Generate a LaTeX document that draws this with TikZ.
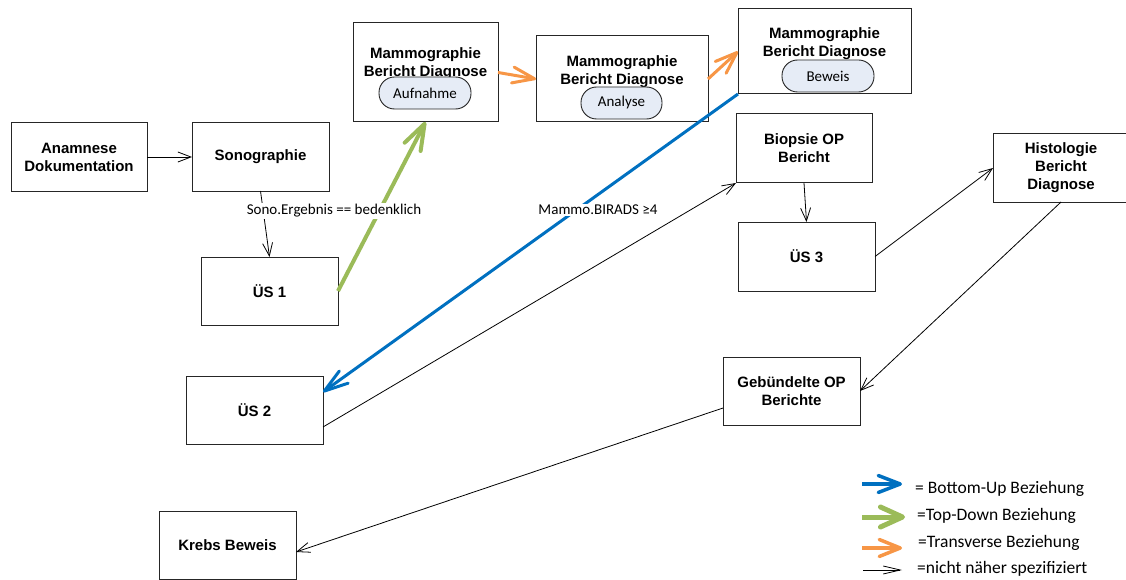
\documentclass[tikz,border=0pt]{standalone}
\usepackage{fontspec}
\setmainfont{Carlito}
\newfontfamily\arialsans{Liberation Sans}
\usetikzlibrary{arrows.meta}

\definecolor{buBlue}{HTML}{0070C0}
\definecolor{tdGreen}{HTML}{9BBB59}
\definecolor{trOrange}{HTML}{F79646}
\definecolor{pillFill}{HTML}{E6ECF6}
\definecolor{boxLine}{HTML}{262626}

\newcommand\boxlbl{\arialsans\bfseries\fontsize{15}{18}\selectfont}
\newcommand\pilltxt{\fontsize{15}{18}\selectfont}
\newcommand\legendtxt{\fontsize{17.5}{21}\selectfont}

\tikzset{
  box/.style={draw=boxLine, line width=1pt, fill=white, inner sep=0pt, outer sep=0pt,
              align=center, font=\boxlbl},
  boxtext/.style={inner sep=0pt, align=center, font=\boxlbl},
  pill/.style={draw=boxLine, line width=0.9pt, fill=pillFill, rounded corners=15.5pt,
               minimum height=32pt, inner sep=0pt, font=\pilltxt},
  plain/.style={draw=black, line width=0.8pt, -{Straight Barb[length=13pt,width=10pt]}},
  bottomup/.style={draw=buBlue, line width=3pt, -{Straight Barb[length=24pt,width=15pt,round]}},
  topdown/.style={draw=tdGreen, line width=4pt, -{Straight Barb[length=26pt,width=18pt,round]}},
  transverse/.style={draw=trOrange, line width=3pt, -{Straight Barb[length=22pt,width=16pt,round]}},
  cond/.style={fill=white, inner sep=1.5pt, font=\pilltxt},
  legendlbl/.style={anchor=base west, inner sep=0pt, font=\legendtxt},
}

\begin{document}
\begin{tikzpicture}[x=1pt, y=-1pt]
\useasboundingbox (0,0) rectangle (1126,580);

% process boxes
\node[box, minimum width=136pt, minimum height=68pt] (anam) at (79,157) {Anamnese\\Dokumentation};
\node[box, minimum width=137pt, minimum height=68pt] (sono) at (260.5,157) {Sonographie};
\node[box, minimum width=137pt, minimum height=68pt] (us1) at (269.5,291) {ÜS 1};
\node[box, minimum width=137pt, minimum height=68pt] (us2) at (254.5,410) {ÜS 2};
\node[box, minimum width=137pt, minimum height=68pt] (krebs) at (227.5,545) {Krebs Beweis};
\node[box, minimum width=136pt, minimum height=69pt] (biop) at (804,148.5) {Biopsie OP\\Bericht};
\node[box, minimum width=137pt, minimum height=69pt] (us3) at (806.5,256.5) {ÜS 3};
\node[box, minimum width=136pt, minimum height=68pt] (histo) at (1061,168) {Histologie\\Bericht\\Diagnose};
\node[box, minimum width=137pt, minimum height=68pt] (geb) at (791.5,391) {Gebündelte OP\\Berichte};

% mammography boxes with their stage pills
\node[box, minimum width=145pt, minimum height=99pt] (m1) at (425.5,72.5) {};
\node[boxtext] (m1t) at (425.5,64) {Mammographie\\Bericht Diagnose};
\node[pill, minimum width=92pt] (p1) at (425,93) {Aufnahme};

\node[box, minimum width=172pt, minimum height=86pt] (m2) at (622,79) {};
\node[boxtext] (m2t) at (622,71.6) {Mammographie\\Bericht Diagnose};
\node[pill, minimum width=81pt] (p2) at (621.5,103) {Analyse};

\node[box, minimum width=173pt, minimum height=85pt] (m3) at (824.5,51.5) {};
\node[boxtext] (m3t) at (824.5,44) {Mammographie\\Bericht Diagnose};
\node[pill, minimum width=92pt] (p3) at (828,76) {Beweis};

% unspecified relations
\draw[plain] (anam.east) -- (sono.west);
\draw[plain] (sono.south) -- (us1.north);
\draw[plain] ([yshift=-17pt]us2.east) -- (biop.south west);
\draw[plain] (biop.south) -- (us3.north);
\draw[plain] (us3.east) -- (histo.west);
\draw[plain] (histo.south) -- (geb.east);
\draw[plain] ([yshift=-17pt]geb.west) -- ([yshift=-7pt]krebs.east);

% top-down, transverse and bottom-up relations
\draw[topdown] (us1.east) -- (m1.south);
\draw[transverse] (m1.east) -- (m2.west);
\draw[transverse] (m2.east) -- (m3.west);
\draw[bottomup] (m3.south west) -- ([yshift=18pt]us2.east);

% conditions
\node[cond] (sonocond) at (334,211) {Sono.Ergebnis == bedenklich};
\node[cond] (biradscond) at (598,210) {Mammo.BIRADS ≥4};

% legend
\coordinate (lbA) at (862,484);  \coordinate (lbB) at (902,484);
\coordinate (lgA) at (862,517);  \coordinate (lgB) at (905,517);
\coordinate (loA) at (862,548);  \coordinate (loB) at (902,548);
\coordinate (lkA) at (863,570);  \coordinate (lkB) at (902,570);
\draw[draw=buBlue, line width=3.5pt, -{Straight Barb[length=22pt,width=17pt,round]}] (lbA) -- (lbB);
\draw[draw=tdGreen, line width=5pt, -{Straight Barb[length=22pt,width=20pt,round]}] (lgA) -- (lgB);
\draw[draw=trOrange, line width=3.5pt, -{Straight Barb[length=21pt,width=17pt,round]}] (loA) -- (loB);
\draw[plain, -{Straight Barb[length=17pt,width=8pt]}] (lkA) -- (lkB);
\node[legendlbl] (lbT) at (915,493) {= Bottom-Up Beziehung};
\node[legendlbl] (lgT) at (917,520) {=Top-Down Beziehung};
\node[legendlbl] (loT) at (918,547) {=Transverse Beziehung};
\node[legendlbl] (lkT) at (917,573) {=nicht näher spezifiziert};
\end{tikzpicture}
\end{document}
